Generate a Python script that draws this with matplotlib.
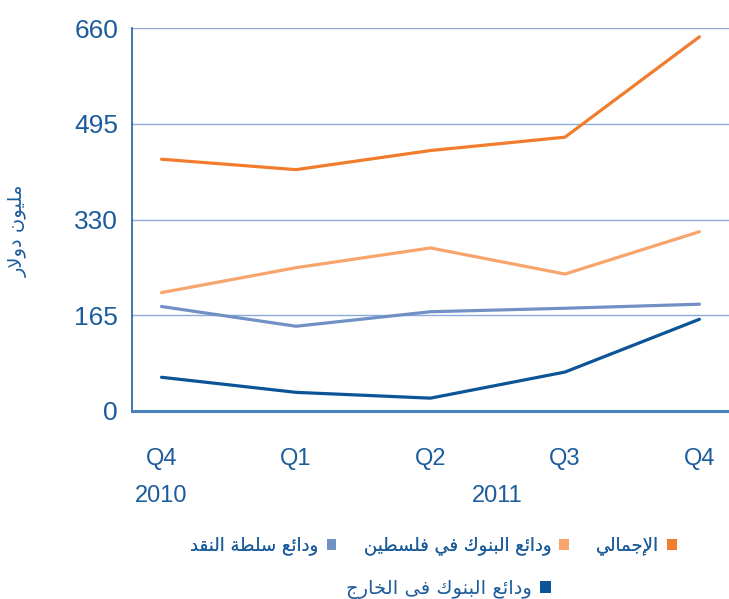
import numpy as np
import matplotlib.pyplot as plt
from matplotlib.patches import Patch
from matplotlib.transforms import blended_transform_factory

quarters = ['Q4', 'Q1', 'Q2', 'Q3', 'Q4']
years = ['2010', '2011', '2011', '2011', '2011']
total = [434, 416, 449, 472, 645]
banks_palestine = [204, 247, 281, 236, 309]
pma = [180, 146, 171, 177, 184]
banks_abroad = [58, 32, 22, 67, 158]
yticks = [0, 165, 330, 495, 660]

names = ['الإجمالي', 'ودائع البنوك في فلسطين', 'ودائع سلطة النقد', 'ودائع البنوك فى الخارج']
ylabel = 'مليون دولار'

colors = ['#f27c2e', '#f7a46d', '#7191c5', '#0b5596']
text_blue = '#1c5c9c'

# minimal arabic shaping (matplotlib has no bidi / shaping)
FORMS = {
    'ا': ('\uFE8D', '\uFE8E'), 'إ': ('\uFE87', '\uFE88'), 'ة': ('\uFE93', '\uFE94'),
    'د': ('\uFEA9', '\uFEAA'), 'ر': ('\uFEAD', '\uFEAE'), 'و': ('\uFEED', '\uFEEE'),
    'ى': ('\uFEEF', '\uFEF0'),
    'ب': ('\uFE8F', '\uFE90', '\uFE91', '\uFE92'), 'ج': ('\uFE9D', '\uFE9E', '\uFE9F', '\uFEA0'),
    'خ': ('\uFEA5', '\uFEA6', '\uFEA7', '\uFEA8'), 'س': ('\uFEB1', '\uFEB2', '\uFEB3', '\uFEB4'),
    'ط': ('\uFEC1', '\uFEC2', '\uFEC3', '\uFEC4'), 'ع': ('\uFEC9', '\uFECA', '\uFECB', '\uFECC'),
    'ف': ('\uFED1', '\uFED2', '\uFED3', '\uFED4'), 'ق': ('\uFED5', '\uFED6', '\uFED7', '\uFED8'),
    'ك': ('\uFED9', '\uFEDA', '\uFEDB', '\uFEDC'), 'ل': ('\uFEDD', '\uFEDE', '\uFEDF', '\uFEE0'),
    'م': ('\uFEE1', '\uFEE2', '\uFEE3', '\uFEE4'), 'ن': ('\uFEE5', '\uFEE6', '\uFEE7', '\uFEE8'),
    'ي': ('\uFEF1', '\uFEF2', '\uFEF3', '\uFEF4'), 'ئ': ('\uFE89', '\uFE8A', '\uFE8B', '\uFE8C'),
    'لا': ('\uFEFB', '\uFEFC'), 'لإ': ('\uFEF9', '\uFEFA'),
}


def shape(s):
    chars = []
    i = 0
    while i < len(s):
        if s[i:i + 2] in ('لا', 'لإ'):
            chars.append(s[i:i + 2])
            i += 2
        else:
            chars.append(s[i])
            i += 1
    out = []
    for k, c in enumerate(chars):
        if c not in FORMS:
            out.append(c)
            continue
        f = FORMS[c]
        prev = chars[k - 1] if k > 0 else None
        nxt = chars[k + 1] if k + 1 < len(chars) else None
        pj = prev in FORMS and len(FORMS[prev]) == 4
        nj = len(f) == 4 and nxt in FORMS
        if pj and nj:
            out.append(f[3])
        elif pj:
            out.append(f[1])
        elif nj:
            out.append(f[2])
        else:
            out.append(f[0])
    return ''.join(out[::-1])


plt.rcParams['font.family'] = ['Liberation Sans', 'DejaVu Sans']

fig = plt.figure(figsize=(7.29, 5.99), dpi=100)
ax = fig.add_axes([0.181, 0.314, 0.819, 0.639])

x = np.arange(len(quarters))
series = [total, banks_palestine, pma, banks_abroad]
for vals, c in zip(series, colors):
    ax.plot(x, vals, color=c, lw=2.3, solid_capstyle='round', zorder=3)

ax.set_xlim(-0.22, 4.22)
ax.set_ylim(0, 660)
ax.set_yticks(yticks)
ax.set_yticklabels([str(v) for v in yticks], fontsize=19, color=text_blue)
ax.yaxis.grid(True, color='#8eaadb', lw=1)
ax.set_axisbelow(True)
ax.tick_params(axis='y', length=0, pad=10)
ax.tick_params(axis='x', length=0, pad=27)
ax.set_xticks(x)
ax.set_xticklabels(quarters, fontsize=17, color=text_blue)

for s in ['top', 'right']:
    ax.spines[s].set_visible(False)
ax.spines['left'].set_color('#1f5fa0')
ax.spines['left'].set_linewidth(1.2)
ax.spines['bottom'].set_color('#4a80bb')
ax.spines['bottom'].set_linewidth(2.2)

# year labels under the quarters
tr = blended_transform_factory(ax.transData, fig.transFigure)
for yr in dict.fromkeys(years):
    pos = [i for i, y in enumerate(years) if y == yr]
    ax.text(np.mean(pos), 1 - 496 / 599, yr, transform=tr, ha='center', va='center',
            fontsize=17, color=text_blue)

fig.text(0.025, 1 - 231 / 599, shape(ylabel), rotation=90, ha='center', va='center',
         fontsize=14, color=text_blue, family=['DejaVu Sans'])

handles = [Patch(facecolor=c, edgecolor='none') for c in colors]
labels = [shape(n) for n in names]
lkw = dict(frameon=False, markerfirst=False, handlelength=0.55, handleheight=0.55,
           handletextpad=0.45, labelcolor=text_blue)
leg1 = fig.legend(handles[2::-1], labels[2::-1], ncol=3, columnspacing=1.5,
                  prop={'family': 'DejaVu Sans', 'size': 13},
                  loc='center', bbox_to_anchor=(0.595, 1 - 546 / 599), **lkw)
fig.add_artist(leg1)
fig.legend(handles[3:], labels[3:], prop={'family': 'DejaVu Sans', 'size': 14},
           loc='center', bbox_to_anchor=(0.615, 1 - 589 / 599), **lkw)

fig.savefig('out.png', dpi=100)
